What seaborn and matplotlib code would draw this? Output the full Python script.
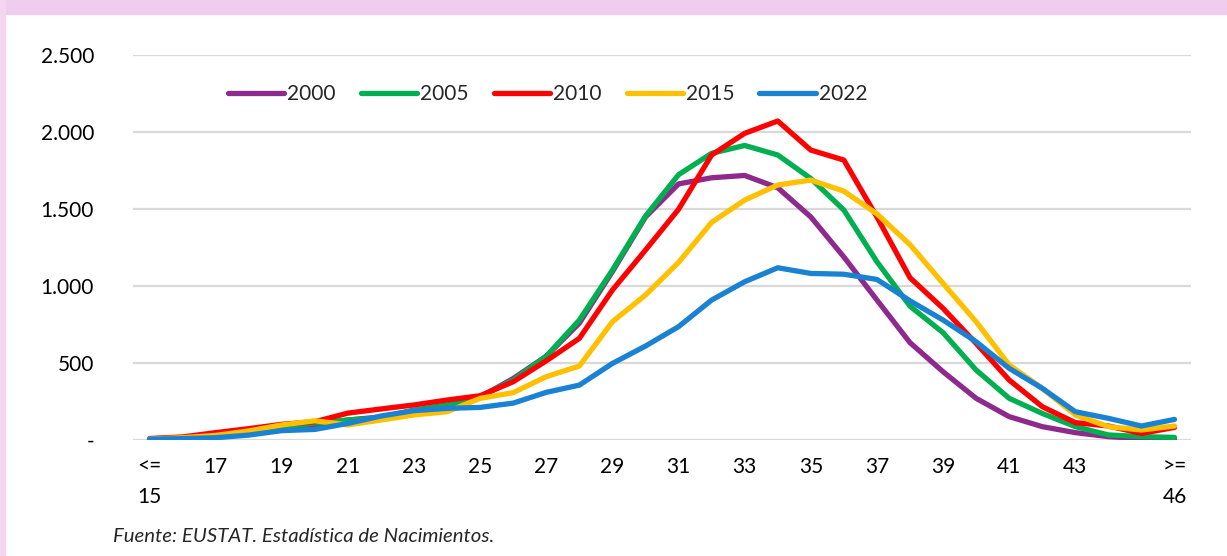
import matplotlib
matplotlib.use("Agg")
import matplotlib.pyplot as plt
import matplotlib.patches as mpatches
import numpy as np
import pandas as pd
import seaborn as sns

# ====================== data ======================
AGES = ["<=\n15"] + [str(a) for a in range(16, 46)] + [">=\n46"]
YEARS = ["2000", "2005", "2010", "2015", "2022"]

V2000 = [5, 10, 20, 45, 75, 100, 130, 150, 190, 225, 280, 400, 545, 760, 1095, 1450,
         1665, 1705, 1720, 1640, 1450, 1190, 910, 633, 444, 271, 152, 87, 48, 22, 9, 9]
V2005 = [6, 15, 35, 60, 85, 110, 130, 145, 195, 228, 282, 390, 545, 780, 1105, 1456,
         1725, 1864, 1915, 1853, 1700, 1495, 1159, 870, 698, 455, 271, 173, 87, 33, 22, 17]
V2010 = [10, 20, 48, 74, 102, 119, 175, 202, 228, 260, 288, 379, 515, 661, 975, 1235,
         1500, 1853, 1994, 2074, 1885, 1820, 1450, 1055, 856, 628, 390, 217, 113, 91, 43, 82]
V2015 = [7, 15, 30, 59, 98, 125, 98, 130, 163, 184, 271, 308, 412, 481, 769, 943,
         1155, 1415, 1560, 1658, 1690, 1618, 1470, 1270, 1018, 769, 488, 336, 163, 87, 65, 91]
V2022 = [6, 9, 15, 32, 61, 69, 108, 156, 191, 206, 212, 240, 310, 357, 498, 611,
         737, 910, 1029, 1120, 1083, 1078, 1044, 905, 780, 639, 466, 336, 184, 141, 91, 134]

SOURCE = "Fuente: EUSTAT. Estadística de Nacimientos."

# ====================== style ======================
PALETTE = {
    "2000": "#8E2A8E",
    "2005": "#00B050",
    "2010": "#FF0000",
    "2015": "#FFC000",
    "2022": "#1A82D2",
}
GRID_COLOR = "#D9D9D9"
PINK = "#F0CDEF"
FS = 15

sns.set_style("white")
plt.rcParams["font.family"] = ["Lato", "DejaVu Sans"]

values = [V2000, V2005, V2010, V2015, V2022]
rows = []
for year, vals in zip(YEARS, values):
    for i, v in enumerate(vals):
        rows.append({"idx": i, "year": year, "value": v})
df = pd.DataFrame(rows)

fig = plt.figure(figsize=(12.27, 5.56), dpi=100)
ax = fig.add_axes([0.1084, 0.2086, 0.8623, 0.6916])

sns.lineplot(data=df, x="idx", y="value", hue="year", hue_order=YEARS,
             palette=PALETTE, linewidth=3.8, ax=ax, legend=True)
for line in ax.lines:
    line.set_solid_capstyle("round")
    line.set_solid_joinstyle("round")

ax.set_xlim(-0.5, len(AGES) - 0.5)
ax.set_ylim(0, 2500)

yticks = [0, 500, 1000, 1500, 2000, 2500]
ax.set_yticks(yticks)
ax.set_yticklabels(["-" if t == 0 else f"{t:,}".replace(",", ".") for t in yticks])
xt = list(range(0, 29, 2)) + [31]
ax.set_xticks(xt)
ax.set_xticklabels([AGES[i] for i in xt], linespacing=1.65)

ax.set_xlabel("")
ax.set_ylabel("")
ax.yaxis.grid(True, color=GRID_COLOR, linewidth=1.6)
ax.set_axisbelow(True)
for s in ax.spines.values():
    s.set_visible(False)
ax.tick_params(axis="both", length=0, labelsize=FS, colors="black")
ax.tick_params(axis="y", pad=28)
ax.tick_params(axis="x", pad=12)

handles, labels = ax.get_legend_handles_labels()
leg = ax.legend(handles, labels, ncol=5, frameon=False, loc="center left",
                bbox_to_anchor=(0.072, 0.9), fontsize=FS,
                handlelength=2.7, handletextpad=0.15, columnspacing=1.2)
for h in leg.get_lines():
    h.set_linewidth(3.8)
    h.set_solid_capstyle("round")

fig.text(113 / 1227, 1 - 536 / 556, SOURCE, fontsize=14.7, style="italic",
         va="center", ha="left")

# pink frame: top band and left edge
fig.patches.append(mpatches.Rectangle((0, 1 - 14 / 556), 1, 14 / 556,
                                      transform=fig.transFigure, color=PINK, zorder=0))
fig.patches.append(mpatches.Rectangle((0, 0), 5 / 1227, 1,
                                      transform=fig.transFigure, color="#F4D6F3", zorder=0))

fig.savefig("out.png", dpi=100, facecolor="white")
plt.close(fig)
